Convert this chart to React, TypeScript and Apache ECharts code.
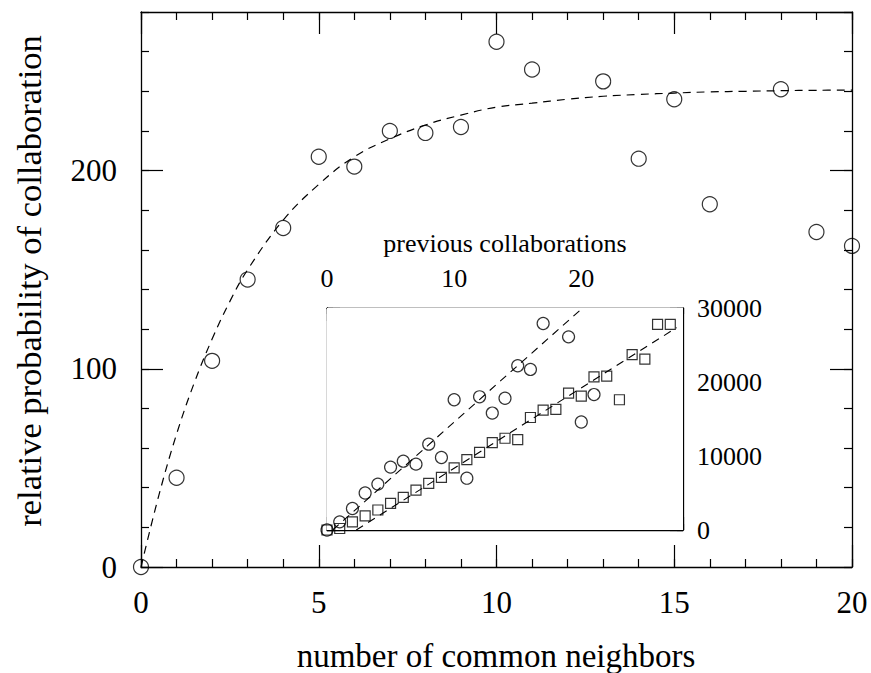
import React, { useEffect, useRef } from "react";
import * as echarts from "echarts";

const FONT = "Liberation Serif";

// Titles
const xTitle = "number of common neighbors";
const yTitle = "relative probability of collaboration";
const insetTitle = "previous collaborations";

// Main plot: relative probability vs number of common neighbors
const mainX = [0, 1, 2, 3, 4, 5, 6, 7, 8, 9, 10, 11, 13, 14, 15, 16, 18, 19, 20];
const mainY = [0, 45, 104, 145, 171, 207, 202, 220, 219, 222, 265, 251, 245, 206, 236, 183, 241, 169, 162];

// Dashed fit curve
const fitX = [0, 0.5, 1, 1.5, 2, 2.5, 3, 4, 5, 6, 7, 8, 9, 10, 11, 12, 13, 14, 15, 16, 17, 18, 19, 20];
const fitY = [0, 36, 67, 93, 115, 134, 150, 175, 193, 207, 216, 223, 228, 232, 234, 236, 237.5, 238.4, 239.1, 239.7, 240, 240.3, 240.5, 240.6];

// Inset: previous collaborations
const insetCircleX = [0, 1, 2, 3, 4, 5, 6, 7, 8, 9, 10, 11, 12, 13, 14, 15, 16, 17, 19, 20, 21];
const insetCircleY = [0, 1100, 2900, 5000, 6200, 8500, 9300, 8900, 11600, 9800, 17600, 7000, 18000, 15800, 17800, 22200, 21700, 27900, 26100, 14600, 18300];

const insetSquareX = [0, 1, 2, 3, 4, 5, 6, 7, 8, 9, 10, 11, 12, 13, 14, 15, 16, 17, 18, 19, 20, 21, 22, 23, 24, 25, 26, 27];
const insetSquareY = [0, 200, 1100, 1900, 2700, 3600, 4400, 5400, 6300, 7100, 8400, 9500, 10500, 11800, 12400, 12200, 15200, 16200, 16300, 18500, 18100, 20700, 20800, 17600, 23700, 23100, 27800, 27800];

const circleFitX = [0.45, 20.1];
const circleFitY = [0, 30000];
const squareFitX = [2.3, 27.5];
const squareFitY = [0, 27350];

const pairs = (xs: number[], ys: number[]) => xs.map((x, i) => [x, ys[i]]);

type AxOpts = {
  grid: number;
  pos: string;
  min: number;
  max: number;
  interval: number;
  tickLen: number;
  line: boolean;
  label?: any;
};

function axis(o: AxOpts): any {
  return {
    type: "value",
    gridIndex: o.grid,
    position: o.pos,
    min: o.min,
    max: o.max,
    interval: o.interval,
    axisLine: { show: o.line, onZero: false, lineStyle: { color: "#000", width: 1.3 } },
    axisTick: { show: true, inside: true, length: o.tickLen, lineStyle: { color: "#000", width: 1.2 } },
    axisLabel: o.label
      ? { show: true, color: "#000", fontFamily: FONT, formatter: (v: number) => String(v), ...o.label }
      : { show: false },
    splitLine: { show: false },
  };
}

const titleStyle = (text: string, size: number) => ({
  text,
  fontFamily: FONT,
  fontSize: size,
  fill: "#000",
  textAlign: "center",
  textVerticalAlign: "middle",
});

export default function App() {
  const ref = useRef<HTMLDivElement>(null);
  useEffect(() => {
    const chart = echarts.init(ref.current!, null, { renderer: "svg" });
    const mainLabel = { fontSize: 31 };
    const insetLabel = { fontSize: 26 };
    const xAxis = [
      axis({ grid: 0, pos: "bottom", min: 0, max: 20, interval: 5, tickLen: 22, line: true, label: { ...mainLabel, margin: 20 } }),
      axis({ grid: 0, pos: "bottom", min: 0, max: 20, interval: 1, tickLen: 8, line: false }),
      axis({ grid: 0, pos: "top", min: 0, max: 20, interval: 5, tickLen: 22, line: true }),
      axis({ grid: 0, pos: "top", min: 0, max: 20, interval: 1, tickLen: 8, line: false }),
      axis({ grid: 1, pos: "top", min: 0, max: 28, interval: 10, tickLen: 13, line: true, label: { ...insetLabel, margin: 17, showMaxLabel: false } }),
      axis({ grid: 1, pos: "top", min: 0, max: 28, interval: 2, tickLen: 6, line: false }),
      axis({ grid: 1, pos: "bottom", min: 0, max: 28, interval: 10, tickLen: 13, line: true }),
      axis({ grid: 1, pos: "bottom", min: 0, max: 28, interval: 2, tickLen: 6, line: false }),
    ];
    const yAxis = [
      axis({ grid: 0, pos: "left", min: 0, max: 280, interval: 100, tickLen: 22, line: true, label: { ...mainLabel, margin: 24, showMaxLabel: false } }),
      axis({ grid: 0, pos: "left", min: 0, max: 280, interval: 20, tickLen: 8, line: false }),
      axis({ grid: 0, pos: "right", min: 0, max: 280, interval: 100, tickLen: 22, line: true }),
      axis({ grid: 0, pos: "right", min: 0, max: 280, interval: 20, tickLen: 8, line: false }),
      axis({ grid: 1, pos: "right", min: 0, max: 30000, interval: 10000, tickLen: 13, line: true, label: { ...insetLabel, margin: 14 } }),
      axis({ grid: 1, pos: "right", min: 0, max: 30000, interval: 2000, tickLen: 6, line: false }),
      axis({ grid: 1, pos: "left", min: 0, max: 30000, interval: 10000, tickLen: 13, line: true }),
      axis({ grid: 1, pos: "left", min: 0, max: 30000, interval: 2000, tickLen: 6, line: false }),
    ];
    const hollow = { color: "rgba(0,0,0,0)", borderColor: "#000", borderWidth: 1.2 };
    chart.setOption({
      animation: false,
      backgroundColor: "#fff",
      textStyle: { fontFamily: FONT },
      grid: [
        { left: 141, top: 12, right: 19, bottom: 106, containLabel: false },
        { left: 327, top: 308, right: 188, bottom: 143, containLabel: false, show: true, backgroundColor: "#fff", borderWidth: 0, z: 5 },
      ],
      xAxis,
      yAxis,
      graphic: [
        { type: "text", x: 496, y: 656, style: titleStyle(xTitle, 33) },
        { type: "text", x: 29, y: 281, rotation: Math.PI / 2, style: titleStyle(yTitle, 34.5) },
        { type: "text", x: 505, y: 243, style: titleStyle(insetTitle, 26) },
      ],
      series: [
        {
          type: "line", xAxisIndex: 0, yAxisIndex: 0, data: pairs(fitX, fitY), smooth: 0.4,
          showSymbol: false, symbol: "none", lineStyle: { color: "#000", width: 1.2, type: [8, 6] }, clip: true,
        },
        {
          type: "scatter", xAxisIndex: 0, yAxisIndex: 0, data: pairs(mainX, mainY), symbol: "circle", symbolSize: 15,
          itemStyle: hollow, clip: false,
        },
        {
          type: "line", xAxisIndex: 4, yAxisIndex: 4, data: pairs(circleFitX, circleFitY), symbol: "none",
          lineStyle: { color: "#000", width: 1.1, type: [8, 6] }, clip: true, z: 6,
        },
        {
          type: "line", xAxisIndex: 4, yAxisIndex: 4, data: pairs(squareFitX, squareFitY), symbol: "none",
          lineStyle: { color: "#000", width: 1.1, type: [8, 6] }, clip: true, z: 6,
        },
        {
          type: "scatter", xAxisIndex: 4, yAxisIndex: 4, data: pairs(insetCircleX, insetCircleY), symbol: "circle", symbolSize: 12,
          itemStyle: hollow, clip: false, z: 7,
        },
        {
          type: "scatter", xAxisIndex: 4, yAxisIndex: 4, data: pairs(insetSquareX, insetSquareY), symbol: "rect", symbolSize: 10,
          itemStyle: hollow, clip: false, z: 7,
        },
      ],
    });
    return () => chart.dispose();
  }, []);
  return (
    <div
      ref={ref}
      style={{ position: "fixed", left: 0, top: 0, width: 871, height: 673, background: "#fff" }}
    />
  );
}
